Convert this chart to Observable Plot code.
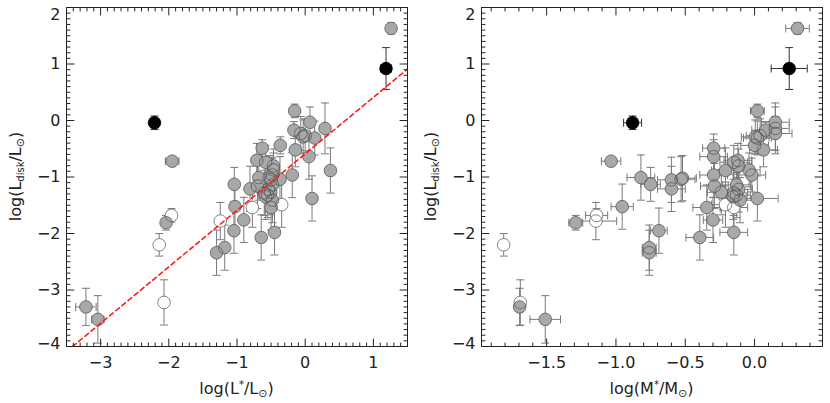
<!DOCTYPE html>
<html><head><meta charset="utf-8">
<script src="https://cdn.jsdelivr.net/npm/d3@7"></script>
<script src="https://cdn.jsdelivr.net/npm/@observablehq/plot@0.6"></script>
<style>
body{margin:0;background:#fff;}
#wrap{display:flex;width:830px;height:403px;}
svg{display:block;}
</style></head><body><div id="wrap"></div>
<script>
// ---- data (one entry per object) ----
const logLdisk = [1.63,0.92,-0.04,-0.72,-1.68,-1.81,-2.2,-3.22,-3.3,-3.52,-1.78,-2.34,-2.25,-1.13,-1.525,-1.95,-1.76,-1.54,-1.21,-1.16,-1.01,-0.705,-0.49,-0.74,-2.07,-1.98,-0.44,-1.49,0.17,-0.03,-0.14,-0.17,-0.23,-0.29,-0.31,-0.27,-0.52,-0.64,-0.885,-0.965,-1.38,-0.805,-0.875,-0.965,-1.02,-1.04,-1.05,-1.14,-1.22,-1.27,-1.32,-1.41,-1.35,-1.54,-1.28];
const logLstar = [1.26,1.185,-2.21,-1.95,-1.96,-2.04,-2.14,-2.07,-3.215,-3.04,-1.245,-1.30,-1.18,-1.04,-1.03,-1.045,-0.9,-0.775,-0.81,-0.70,-0.68,-0.71,-0.63,-0.58,-0.645,-0.45,-0.365,-0.345,-0.155,0.07,0.29,-0.165,-0.065,-0.03,0.14,0.0,-0.145,0.055,0.37,-0.19,0.10,-0.465,-0.465,-0.48,-0.53,-0.37,-0.50,-0.48,-0.54,-0.505,-0.55,-0.48,-0.58,-0.50,-0.60];
const logMstar = [0.31,0.25,-0.88,-1.035,-1.14,-1.29,-1.81,-1.69,-1.695,-1.51,-1.145,-0.76,-0.76,-0.75,-0.955,-0.69,-0.30,-0.15,-0.6,-0.29,-0.82,-0.12,-0.295,-0.15,-0.395,-0.15,0.0,-0.21,0.02,0.15,0.15,0.08,0.15,0.005,0.02,0.04,0.065,-0.295,-0.21,-0.295,0.02,-0.115,-0.04,-0.02,-0.52,-0.53,-0.6,-0.13,-0.115,-0.24,-0.13,-0.105,-0.155,-0.345,-0.15];
const kind = ["g","k","k","g","w","g","w","w","g","g","w","g","g","g","g","g","g","w","g","g","g","g","g","g","g","g","g","w","g","g","g","g","g","g","g","g","g","g","g","g","g","g","g","g","g","g","g","g","g","g","g","g","g","g","g"];
const errLdisk = [0.10,0.37,0.12,0.05,0.12,0.13,0.2,0.4,0.33,0.42,0.33,0.4,0.4,0.3,0.4,0.4,0.4,0.35,0.4,0.4,0.4,0.3,0.15,0.3,0.4,0.4,0.15,0.4,0.12,0.27,0.45,0.15,0.3,0.3,0.3,0.3,0.3,0.4,0.4,0.4,0.4,0.3,0.3,0.3,0.4,0.4,0.4,0.4,0.4,0.4,0.4,0.4,0.4,0.4,0.4];
const errLstar = [0.05,0.08,0,0.10,0,0.05,0,0,0.15,0.09,0,0,0.05,0.05,0.05,0,0,0.05,0,0,0,0,0,0,0,0,0,0,0,0,0,0,0,0,0,0,0,0,0,0,0,0,0,0,0,0,0,0,0,0,0,0,0,0,0];
const errMstar = [0.085,0.13,0.065,0.07,0.08,0.05,0,0,0,0.11,0.15,0.05,0.05,0.07,0.08,0.06,0.07,0.1,0.1,0.1,0.1,0.1,0.08,0.1,0.1,0.1,0.1,0.1,0.05,0.1,0.1,0.1,0.12,0.1,0.1,0.1,0.1,0.1,0.1,0.1,0.15,0.08,0.08,0.1,0.1,0.1,0.1,0.1,0.1,0.1,0.1,0.1,0.1,0.1,0.1];

const xTicksL = [-3,-2,-1,0,1];
const xTicksM = [-1.5,-1.0,-0.5,0.0];
const yTicks = [2,1,0,-1,-2,-3,-4];
const xDomainL = [-3.5,1.5];
const xDomainM = [-1.97,0.49];
const yDomain = [-4,2];
const fit = {slope:1.0, intercept:-0.59};

// ---- styling ----
const FONT = "'DejaVu Sans', sans-serif";
const fillOf = {g:"#a8a8a8", w:"#ffffff", k:"#000000"};
const strokeOf = {g:"#585858", w:"#666666", k:"#000000"};
const barOf = {g:"#7a7a7a", w:"#7a7a7a", k:"#333333"};

const rows = logLdisk.map((y,i)=>({y, lx:logLstar[i], mx:logMstar[i], kind:kind[i],
  ey:errLdisk[i], elx:errLstar[i], emx:errMstar[i]}));

const minus = v => (v<0 ? "\u2212" : "") + Math.abs(v);
const fmtL = d => minus(d);
const fmtM = d => (d<0 ? "\u2212" : "") + Math.abs(d).toFixed(1);

const tickShape = {draw(ctx, l){ ctx.moveTo(0,0); ctx.lineTo(0,-l); }};
const hcap = {draw(ctx, size){ const r = Math.sqrt(size/Math.PI); ctx.moveTo(-r,0); ctx.lineTo(r,0); }};
const vcap = {draw(ctx, size){ const r = Math.sqrt(size/Math.PI); ctx.moveTo(0,-r); ctx.lineTo(0,r); }};

function frameTicks(xDom, xMajor, yMajor){
  const eps = 1e-9;
  const xMinor = d3.range(Math.ceil(xDom[0]*10-eps), Math.floor(xDom[1]*10+eps)+1).map(v=>v/10)
    .filter(v => !xMajor.some(m=>Math.abs(m-v)<1e-6));
  const yMinor = d3.range(yDomain[0]*10, yDomain[1]*10+1).map(v=>v/10)
    .filter(v => !yMajor.some(m=>Math.abs(m-v)<1e-6));
  const st = {stroke:"#222", strokeWidth:1, shape:tickShape, anchor:"start"};
  const M = 7.5, m = 3.5;
  return [
    Plot.vector(xMajor, {...st, x:d=>d, frameAnchor:"bottom", rotate:0, length:M}),
    Plot.vector(xMinor, {...st, x:d=>d, frameAnchor:"bottom", rotate:0, length:m}),
    Plot.vector(xMajor, {...st, x:d=>d, frameAnchor:"top", rotate:180, length:M}),
    Plot.vector(xMinor, {...st, x:d=>d, frameAnchor:"top", rotate:180, length:m}),
    Plot.vector(yMajor, {...st, y:d=>d, frameAnchor:"left", rotate:90, length:M}),
    Plot.vector(yMinor, {...st, y:d=>d, frameAnchor:"left", rotate:90, length:m}),
    Plot.vector(yMajor, {...st, y:d=>d, frameAnchor:"right", rotate:-90, length:M}),
    Plot.vector(yMinor, {...st, y:d=>d, frameAnchor:"right", rotate:-90, length:m}),
  ];
}

function panel({xKey, exKey, xDomain, xMajor, fmt, withFit, xlabelParts}){
  const W = 415, H = 403;
  const withEx = rows.filter(d => d[exKey] > 0);
  const yCaps = rows.flatMap(d => [{x:d[xKey], y:d.y-d.ey, c:barOf[d.kind]}, {x:d[xKey], y:d.y+d.ey, c:barOf[d.kind]}]);
  const xCaps = withEx.flatMap(d => [{x:d[xKey]-d[exKey], y:d.y, c:barOf[d.kind]}, {x:d[xKey]+d[exKey], y:d.y, c:barOf[d.kind]}]);
  const marks = [
    Plot.ruleX(rows, {x:xKey, y1:d=>d.y-d.ey, y2:d=>d.y+d.ey, stroke:d=>barOf[d.kind], strokeWidth:1, clip:true}),
    Plot.ruleY(withEx, {y:"y", x1:d=>d[xKey]-d[exKey], x2:d=>d[xKey]+d[exKey], stroke:d=>barOf[d.kind], strokeWidth:1, clip:true}),
    Plot.dot(yCaps, {x:"x", y:"y", symbol:hcap, r:4, stroke:"c", strokeWidth:1, clip:true}),
    Plot.dot(xCaps, {x:"x", y:"y", symbol:vcap, r:4, stroke:"c", strokeWidth:1, clip:true}),
    Plot.dot(rows, {x:xKey, y:"y", r:6.3, fill:d=>fillOf[d.kind], stroke:null}),
    Plot.dot(rows, {x:xKey, y:"y", r:6.3, fill:null, stroke:d=>strokeOf[d.kind], strokeWidth:0.8}),
  ];
  if (withFit) {
    marks.push(Plot.line(xDomain, {x:d=>d, y:d=>fit.slope*d+fit.intercept, stroke:"#ff1a1a", strokeWidth:1.6, strokeDasharray:"4.5,3.5", clip:true}));
  }
  marks.push(Plot.frame({stroke:"#222", strokeWidth:1}));
  marks.push(...frameTicks(xDomain, xMajor, yTicks));
  marks.push(Plot.axisX({ticks:xMajor, tickSize:0, tickPadding:10, tickFormat:fmt, label:null, fontSize:16, fill:"#222"}));
  const yMid = yTicks.filter(v => v !== yDomain[1] && v !== yDomain[0]);
  marks.push(Plot.axisY({ticks:yMid, tickSize:0, tickPadding:6, tickFormat:fmtL, label:null, fontSize:16, fill:"#222"}));
  marks.push(Plot.axisY({ticks:[yDomain[1]], tickSize:0, tickPadding:6, tickFormat:fmtL, label:null, fontSize:16, fill:"#222", dy:7}));
  marks.push(Plot.axisY({ticks:[yDomain[0]], tickSize:0, tickPadding:6, tickFormat:fmtL, label:null, fontSize:16, fill:"#222", dy:-3}));
  const p = Plot.plot({
    width:W, height:H, marginLeft:66, marginRight:8, marginTop:7, marginBottom:57,
    x:{domain:xDomain}, y:{domain:yDomain},
    style:{fontFamily:FONT, fontSize:"16px", background:"#fff", color:"#222", overflow:"visible"},
    marks
  });
  const svg = d3.select(p);
  // x title
  const cx = (66 + W - 8)/2;
  const tx = svg.append("text").attr("x", cx).attr("y", 394).attr("text-anchor","middle")
    .attr("font-family", FONT).attr("font-size", 16).attr("fill","#222");
  tx.append("tspan").text("log(" + xlabelParts[0]);
  tx.append("tspan").attr("dy",-6).attr("font-size",10).text("*");
  tx.append("tspan").attr("dy",6).text("/" + xlabelParts[0]);
  tx.append("tspan").attr("dy",3).attr("font-size",11).text("\u2299");
  tx.append("tspan").attr("dy",-3).text(")");
  // y title
  const cy = (7 + H - 57)/2;
  const ty = svg.append("text").attr("transform", `translate(21,${cy}) rotate(-90)`).attr("text-anchor","middle")
    .attr("font-family", FONT).attr("font-size", 16).attr("fill","#222");
  ty.append("tspan").text("log(L");
  ty.append("tspan").attr("dy",3).attr("font-size",10).text("disk");
  ty.append("tspan").attr("dy",-3).text("/L");
  ty.append("tspan").attr("dy",3).attr("font-size",11).text("\u2299");
  ty.append("tspan").attr("dy",-3).text(")");
  return p;
}

const wrap = document.getElementById("wrap");
wrap.appendChild(panel({xKey:"lx", exKey:"elx", xDomain:xDomainL, xMajor:xTicksL, fmt:fmtL, withFit:true, xlabelParts:["L"]}));
wrap.appendChild(panel({xKey:"mx", exKey:"emx", xDomain:xDomainM, xMajor:xTicksM, fmt:fmtM, withFit:false, xlabelParts:["M"]}));
</script></body></html>
